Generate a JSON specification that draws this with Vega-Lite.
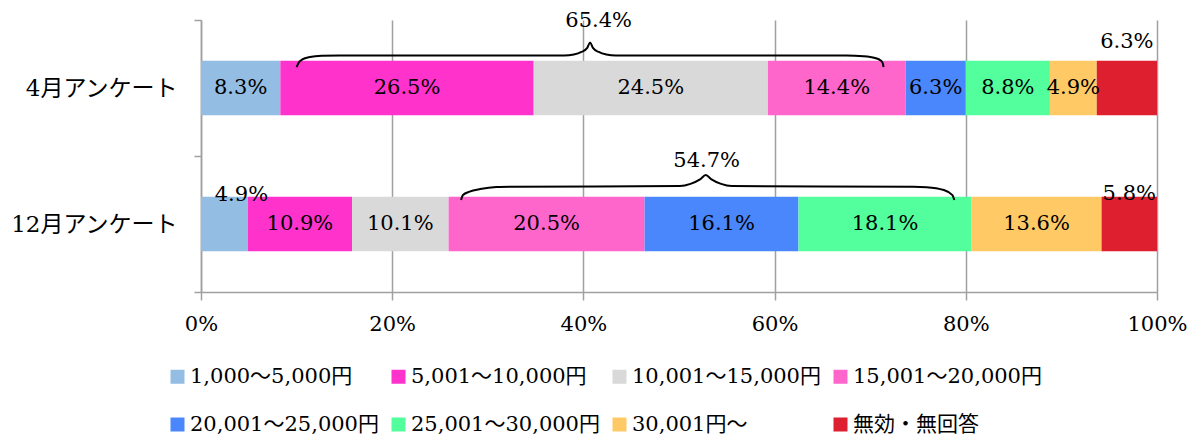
{
  "$schema": "https://vega.github.io/schema/vega-lite/v6.json",
  "width": 956,
  "height": 272,
  "autosize": {"type": "none"},
  "padding": {"left": 201, "top": 20, "right": 37, "bottom": 144},
  "background": "white",
  "config": {
    "view": {"stroke": null},
    "font": "DejaVu Serif, Noto Sans CJK JP",
    "text": {"font": "DejaVu Serif, Noto Sans CJK JP", "fontSize": 21, "color": "black"},
    "axis": {
      "labelFont": "DejaVu Serif, Noto Sans CJK JP",
      "labelColor": "black",
      "domainColor": "#a0a0a0",
      "domainWidth": 1.5,
      "tickColor": "#a0a0a0",
      "tickWidth": 1.5,
      "gridColor": "#a0a0a0",
      "gridWidth": 1.5,
      "title": null
    }
  },
  "datasets": {
    "shares": [
      {"survey": "4月アンケート", "idx": 0, "range": "1,000～5,000円", "value": 8.3},
      {"survey": "4月アンケート", "idx": 1, "range": "5,001～10,000円", "value": 26.5},
      {"survey": "4月アンケート", "idx": 2, "range": "10,001～15,000円", "value": 24.5},
      {"survey": "4月アンケート", "idx": 3, "range": "15,001～20,000円", "value": 14.4},
      {"survey": "4月アンケート", "idx": 4, "range": "20,001～25,000円", "value": 6.3},
      {"survey": "4月アンケート", "idx": 5, "range": "25,001～30,000円", "value": 8.8},
      {"survey": "4月アンケート", "idx": 6, "range": "30,001円～", "value": 4.9},
      {"survey": "4月アンケート", "idx": 7, "range": "無効・無回答", "value": 6.3},
      {"survey": "12月アンケート", "idx": 0, "range": "1,000～5,000円", "value": 4.9},
      {"survey": "12月アンケート", "idx": 1, "range": "5,001～10,000円", "value": 10.9},
      {"survey": "12月アンケート", "idx": 2, "range": "10,001～15,000円", "value": 10.1},
      {"survey": "12月アンケート", "idx": 3, "range": "15,001～20,000円", "value": 20.5},
      {"survey": "12月アンケート", "idx": 4, "range": "20,001～25,000円", "value": 16.1},
      {"survey": "12月アンケート", "idx": 5, "range": "25,001～30,000円", "value": 18.1},
      {"survey": "12月アンケート", "idx": 6, "range": "30,001円～", "value": 13.6},
      {"survey": "12月アンケート", "idx": 7, "range": "無効・無回答", "value": 5.8}
    ],
    "braces": [
      {"survey": "4月アンケート", "x": 10.0, "level": 0.346},
      {"survey": "4月アンケート", "x": 10.2, "level": 0.316},
      {"survey": "4月アンケート", "x": 10.6, "level": 0.29},
      {"survey": "4月アンケート", "x": 11.4, "level": 0.272},
      {"survey": "4月アンケート", "x": 12.6, "level": 0.263},
      {"survey": "4月アンケート", "x": 14.5, "level": 0.261},
      {"survey": "4月アンケート", "x": 38.0, "level": 0.261},
      {"survey": "4月アンケート", "x": 39.0, "level": 0.254},
      {"survey": "4月アンケート", "x": 39.8, "level": 0.235},
      {"survey": "4月アンケート", "x": 40.4, "level": 0.205},
      {"survey": "4月アンケート", "x": 40.7, "level": 0.165},
      {"survey": "4月アンケート", "x": 41.0, "level": 0.205},
      {"survey": "4月アンケート", "x": 41.6, "level": 0.235},
      {"survey": "4月アンケート", "x": 42.4, "level": 0.254},
      {"survey": "4月アンケート", "x": 43.4, "level": 0.261},
      {"survey": "4月アンケート", "x": 67.5, "level": 0.261},
      {"survey": "4月アンケート", "x": 69.3, "level": 0.266},
      {"survey": "4月アンケート", "x": 70.5, "level": 0.279},
      {"survey": "4月アンケート", "x": 71.1, "level": 0.298},
      {"survey": "4月アンケート", "x": 71.3, "level": 0.316},
      {"survey": "4月アンケート", "x": 71.4, "level": 0.346},
      {"survey": "12月アンケート", "x": 27.2, "level": 1.324},
      {"survey": "12月アンケート", "x": 27.4, "level": 1.287},
      {"survey": "12月アンケート", "x": 28.1, "level": 1.262},
      {"survey": "12月アンケート", "x": 29.2, "level": 1.243},
      {"survey": "12月アンケート", "x": 30.9, "level": 1.228},
      {"survey": "12月アンケート", "x": 32.5, "level": 1.226},
      {"survey": "12月アンケート", "x": 50.1, "level": 1.221},
      {"survey": "12月アンケート", "x": 51.2, "level": 1.205},
      {"survey": "12月アンケート", "x": 52.2, "level": 1.172},
      {"survey": "12月アンケート", "x": 52.8, "level": 1.14},
      {"survey": "12月アンケート", "x": 53.4, "level": 1.172},
      {"survey": "12月アンケート", "x": 54.4, "level": 1.205},
      {"survey": "12月アンケート", "x": 55.5, "level": 1.221},
      {"survey": "12月アンケート", "x": 74.5, "level": 1.226},
      {"survey": "12月アンケート", "x": 75.9, "level": 1.229},
      {"survey": "12月アンケート", "x": 77.7, "level": 1.25},
      {"survey": "12月アンケート", "x": 78.6, "level": 1.287},
      {"survey": "12月アンケート", "x": 78.8, "level": 1.324}
    ],
    "braceTotals": [
      {"survey": "4月アンケート", "total": 65.4, "x": 41.6, "level": 0.007},
      {"survey": "12月アンケート", "total": 54.7, "x": 52.9, "level": 1.04}
    ]
  },
  "resolve": {"scale": {"y": "independent"}, "axis": {"y": "independent"}},
  "layer": [
    {
      "data": {"name": "shares"},
      "transform": [
        {"stack": "value", "groupby": ["survey"], "sort": [{"field": "idx", "order": "ascending"}], "as": ["x0", "x1"]},
        {"calculate": "(datum.x0 + datum.x1) / 2", "as": "mid"},
        {"calculate": "format(datum.value, '.1f') + '%'", "as": "label"}
      ],
      "encoding": {
        "y": {
          "field": "survey",
          "type": "nominal",
          "scale": {"domain": ["4月アンケート", "12月アンケート"], "paddingInner": 0, "paddingOuter": 0},
          "axis": {"tickBand": "extent", "tickSize": 7, "labelFontSize": 23, "labelPadding": 17, "grid": false}
        }
      },
      "layer": [
        {
          "mark": {"type": "bar", "height": {"band": 0.4}},
          "encoding": {
            "x": {
              "field": "x0",
              "type": "quantitative",
              "scale": {"domain": [0, 100], "nice": false},
              "axis": {"values": [0, 20, 40, 60, 80, 100], "labelExpr": "datum.value + '%'", "labelFlush": false, "grid": true, "tickSize": 8, "labelFontSize": 21, "labelPadding": 13}
            },
            "x2": {"field": "x1"},
            "color": {
              "field": "range",
              "type": "nominal",
              "scale": {
                "domain": ["1,000～5,000円", "5,001～10,000円", "10,001～15,000円", "15,001～20,000円", "20,001～25,000円", "25,001～30,000円", "30,001円～", "無効・無回答"],
                "range": ["#93bde3", "#ff33cc", "#d9d9d9", "#ff66cc", "#4a86fc", "#52ff9c", "#ffca66", "#dd1f2f"]
              },
              "legend": {
                "title": null,
                "orient": "none",
                "legendX": -34,
                "legendY": 346,
                "direction": "horizontal",
                "columns": 4,
                "gridAlign": "all",
                "columnPadding": 9,
                "rowPadding": 26,
                "padding": 0,
                "symbolType": "square",
                "symbolSize": 196,
                "symbolStrokeWidth": 0,
                "symbolOpacity": 1,
                "labelFont": "DejaVu Serif, Noto Sans CJK JP",
                "labelFontSize": 21,
                "labelColor": "black",
                "labelOffset": 2,
                "labelLimit": 0
              }
            }
          }
        },
        {
          "transform": [
            {"filter": "datum.idx != 7 && !(datum.survey == '12月アンケート' && datum.idx == 0)"}
          ],
          "mark": {"type": "text", "baseline": "middle", "align": "center"},
          "encoding": {
            "x": {"field": "mid", "type": "quantitative"},
            "text": {"field": "label"}
          }
        },
        {
          "transform": [
            {"filter": "datum.idx == 7 && datum.survey == '4月アンケート'"}
          ],
          "mark": {"type": "text", "baseline": "middle", "align": "center", "dy": -46},
          "encoding": {
            "x": {"field": "mid", "type": "quantitative"},
            "text": {"field": "label"}
          }
        },
        {
          "transform": [
            {"filter": "datum.idx == 7 && datum.survey == '12月アンケート'"}
          ],
          "mark": {"type": "text", "baseline": "middle", "align": "center", "dy": -30},
          "encoding": {
            "x": {"field": "mid", "type": "quantitative"},
            "text": {"field": "label"}
          }
        },
        {
          "transform": [
            {"filter": "datum.idx == 0 && datum.survey == '12月アンケート'"}
          ],
          "mark": {"type": "text", "baseline": "middle", "align": "center", "dy": -29, "dx": 17},
          "encoding": {
            "x": {"field": "mid", "type": "quantitative"},
            "text": {"field": "label"}
          }
        }
      ]
    },
    {
      "encoding": {
        "y": {"field": "level", "type": "quantitative", "scale": {"domain": [0, 2], "reverse": true, "nice": false, "zero": false}, "axis": null},
        "x": {"field": "x", "type": "quantitative"}
      },
      "layer": [
        {
          "data": {"name": "braces"},
          "mark": {"type": "line", "interpolate": "monotone", "color": "black", "strokeWidth": 2},
          "encoding": {
            "detail": {"field": "survey"},
            "order": {"field": "x"}
          }
        },
        {
          "data": {"name": "braceTotals"},
          "transform": [
            {"calculate": "format(datum.total, '.1f') + '%'", "as": "label"}
          ],
          "mark": {"type": "text", "baseline": "middle", "align": "center"},
          "encoding": {
            "text": {"field": "label"}
          }
        }
      ]
    }
  ]
}
